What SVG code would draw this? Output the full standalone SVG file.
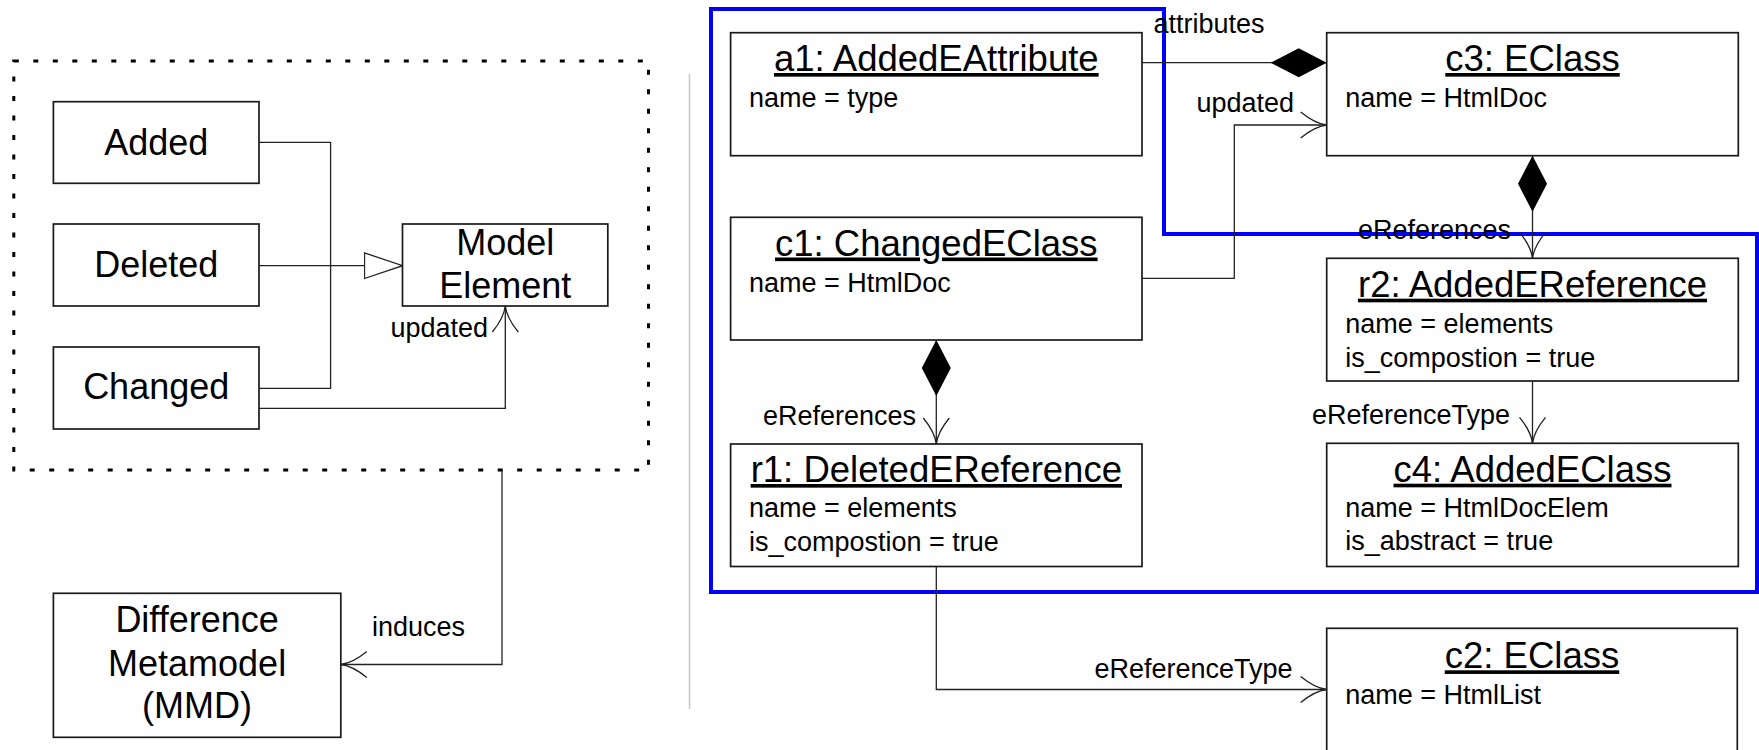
<svg xmlns="http://www.w3.org/2000/svg" width="1759" height="750" viewBox="0 0 1759 750">
<style>
text{font-family:"Liberation Sans",Arial,sans-serif;fill:#000}
.box{fill:#fff;stroke:#1a1a1a;stroke-width:1.7}
.big{font-size:36px;text-anchor:middle}
.title{font-size:36.5px;text-anchor:middle;text-decoration:underline}
.attr{font-size:27px}
.lbl{font-size:27px}
.conn{fill:none;stroke:#222;stroke-width:1.3}
.arr{marker-end:url(#open)}
</style>
<defs>
<marker id="open" markerUnits="userSpaceOnUse" viewBox="-29 -15 30 30" refX="0" refY="0" markerWidth="30" markerHeight="30" orient="auto">
<path d="M-26,-13 Q-12,-1.5 0,0 Q-12,1.5 -26,13" fill="none" stroke="#222" stroke-width="1.3"/>
</marker>
<marker id="diamond" markerUnits="userSpaceOnUse" viewBox="0 -15 57 30" refX="0" refY="0" markerWidth="57" markerHeight="30" orient="auto">
<path d="M0,0 L28,-14.5 L56,0 L28,14.5 Z" fill="#000"/>
</marker>
<marker id="tri" markerUnits="userSpaceOnUse" viewBox="-39 -14 40 28" refX="0" refY="0" markerWidth="40" markerHeight="28" orient="auto">
<path d="M-38,-12.8 L0,0 L-38,12.8 Z" fill="#fff" stroke="#222" stroke-width="1.3"/>
</marker>
</defs>
<rect width="1759" height="750" fill="#fff"/>

<g id="package">
<rect x="13.8" y="61" width="634.7" height="409" fill="none" stroke="#000" stroke-width="3" stroke-dasharray="5 14.5"/>
</g>
<line id="separator" x1="689.5" y1="74" x2="689.5" y2="709" stroke="#c8c8c8" stroke-width="1.5"/>
<g id="highlight">
<path d="M711,9 H1164 V234 H1757 V592 H711 Z" fill="none" stroke="#0000ff" stroke-width="4"/>
</g>

<g id="connectors">
<path class="conn" d="M259,142.3 H330.6 V388.3 H259"/>
<path class="conn" d="M259,265.7 H402.5" marker-end="url(#tri)"/>
<path class="conn arr" d="M259,408.3 H505.3 V306"/>
<path class="conn arr" d="M502,470 V664.5 H340.8"/>
<path class="conn" d="M1326.7,62.7 H1142" marker-start="url(#diamond)"/>
<path class="conn arr" d="M1142,278.3 H1234.3 V125 H1326.7"/>
<path class="conn arr" d="M1532.5,155.7 V258.3" marker-start="url(#diamond)"/>
<path class="conn arr" d="M1532.5,381 V443.3"/>
<path class="conn arr" d="M936.3,340 V444" marker-start="url(#diamond)"/>
<path class="conn arr" d="M936.3,566.5 V689.5 H1326.7"/>
<text class="lbl" x="488" y="337" text-anchor="end">updated</text>
<text class="lbl" x="372" y="635.5">induces</text>
<text class="lbl" x="1153.5" y="33">attributes</text>
<text class="lbl" x="1294" y="112" text-anchor="end">updated</text>
<text class="lbl" x="1358" y="239">eReferences</text>
<text class="lbl" x="1510" y="424" text-anchor="end">eReferenceType</text>
<text class="lbl" x="916" y="425" text-anchor="end">eReferences</text>
<text class="lbl" x="1292.5" y="678" text-anchor="end">eReferenceType</text>
</g>

<g id="added">
<rect class="box" x="53.4" y="101.7" width="205.6" height="81.6"/>
<text class="big" x="156.2" y="155">Added</text>
</g>
<g id="deleted">
<rect class="box" x="53.4" y="224" width="205.6" height="82"/>
<text class="big" x="156.2" y="277">Deleted</text>
</g>
<g id="changed">
<rect class="box" x="53.4" y="347" width="205.6" height="82"/>
<text class="big" x="156.2" y="399">Changed</text>
</g>
<g id="model-element">
<rect class="box" x="402.5" y="224" width="205.3" height="82"/>
<text class="big" x="505.2" y="255">Model</text>
<text class="big" x="505.2" y="297.5">Element</text>
</g>
<g id="dmm">
<rect class="box" x="53.4" y="593.3" width="287.4" height="144"/>
<text class="big" x="197.1" y="631.5">Difference</text>
<text class="big" x="197.1" y="675.5">Metamodel</text>
<text class="big" x="197.1" y="718">(MMD)</text>
</g>

<g id="a1">
<rect class="box" x="730.6" y="32.7" width="411.4" height="123"/>
<text class="title" x="936.3" y="71">a1: AddedEAttribute</text>
<text class="attr" x="749" y="107">name = type</text>
</g>
<g id="c3">
<rect class="box" x="1326.7" y="32.7" width="411.6" height="123"/>
<text class="title" x="1532.5" y="71">c3: EClass</text>
<text class="attr" x="1345.3" y="107">name = HtmlDoc</text>
</g>
<g id="c1">
<rect class="box" x="730.6" y="217.3" width="411.4" height="122.7"/>
<text class="title" x="936.3" y="255.5">c1: ChangedEClass</text>
<text class="attr" x="749" y="291.5">name = HtmlDoc</text>
</g>
<g id="r2">
<rect class="box" x="1326.7" y="258.3" width="411.6" height="122.7"/>
<text class="title" x="1532.5" y="296.7">r2: AddedEReference</text>
<text class="attr" x="1345.3" y="333.3">name = elements</text>
<text class="attr" x="1345.3" y="366.7">is_compostion = true</text>
</g>
<g id="r1">
<rect class="box" x="730.6" y="444" width="411.4" height="122.5"/>
<text class="title" x="936.3" y="482">r1: DeletedEReference</text>
<text class="attr" x="749" y="517">name = elements</text>
<text class="attr" x="749" y="550.5">is_compostion = true</text>
</g>
<g id="c4">
<rect class="box" x="1326.7" y="443.3" width="411.6" height="123.2"/>
<text class="title" x="1532.5" y="481.7">c4: AddedEClass</text>
<text class="attr" x="1345.3" y="516.7">name = HtmlDocElem</text>
<text class="attr" x="1345.3" y="550">is_abstract = true</text>
</g>
<g id="c2">
<rect class="box" x="1326.7" y="628.3" width="410.6" height="140"/>
<text class="title" x="1532" y="668.3">c2: EClass</text>
<text class="attr" x="1345.3" y="704">name = HtmlList</text>
</g>
</svg>
